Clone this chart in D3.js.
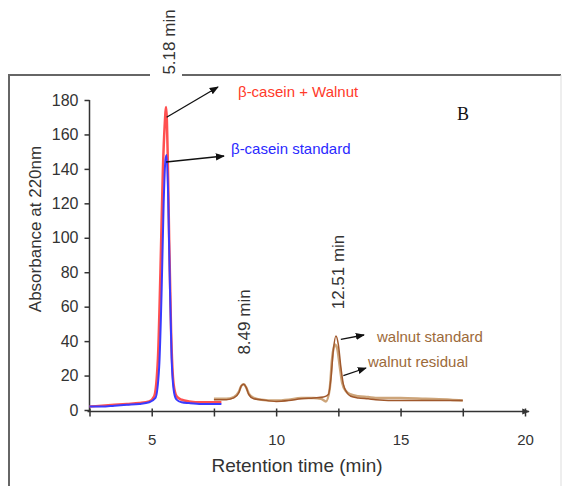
<!DOCTYPE html>
<html>
<head>
<meta charset="utf-8">
<script src="https://cdn.jsdelivr.net/npm/d3@7"></script>
<style>
body{margin:0;background:#fff;}
svg{display:block;font-family:"Liberation Sans",Arial,sans-serif;}
</style>
</head>
<body>
<svg id="chart" width="563" height="486"></svg>
<script>
// retention time (min) and absorbance for each trace
var caseinWalnutX = [2.5,3,3.5,4,4.5,4.9,5.1,5.25,5.35,5.45,5.52,5.58,5.64,5.7,5.78,5.88,6.0,6.2,6.5,7,7.5,7.8];
var caseinWalnutY = [2,2.5,3,3.5,4,5,8,30,80,140,165,176,150,100,45,15,8,6,5,4.5,4.5,4.5];
var caseinStdX = [2.5,3,3.5,4,4.5,4.9,5.15,5.3,5.4,5.48,5.55,5.6,5.66,5.72,5.8,5.9,6.0,6.2,6.5,7,7.5,7.8];
var caseinStdY = [2,2,2.5,3,3.5,4.5,7,25,70,120,145,148,125,80,30,10,6,4.5,4,3.5,3.5,3.5];
var walnutStdX = [7.5,8,8.3,8.5,8.6,8.7,8.8,8.9,9.1,9.4,10,10.5,11,11.5,11.9,12.1,12.2,12.3,12.4,12.5,12.6,12.7,12.85,13,13.3,13.7,14,15,16,17,17.5];
var walnutStdY = [6,6,7,10,14,15,13,9,6.5,6,5,5.5,6.5,7,7.5,9,18,35,43,38,25,15,10,8,7,6.5,6,5.5,5.5,5.5,5.5];
var walnutResX = [7.5,8,8.3,8.5,8.6,8.7,8.8,8.9,9.1,9.4,10,10.5,11,11.5,11.8,12.0,12.15,12.25,12.35,12.45,12.55,12.65,12.8,13,13.3,13.7,14,15,16,17,17.5];
var walnutResY = [6.5,6.5,7.5,10.5,14,15,13,9.5,7,6,5.5,6,7,7,6.5,5,12,30,38,36,26,16,11,9,8,7.5,7,7,6.5,6,5.5];

var xTicks = [2.5,5,7.5,10,12.5,15,17.5,20];
var xLabels = [5,10,15,20];
var yTicks = [0,20,40,60,80,100,120,140,160,180];
var peakTimes = ["5.18 min","8.49 min","12.51 min"];

var svg = d3.select("#chart");
var x = d3.scaleLinear().domain([2.5,20]).range([89.5,525]);
var y = d3.scaleLinear().domain([0,180]).range([410,100]);

// frame around the panel, broken at the top for the first peak label
svg.append("path").attr("d","M9,486 V75 H150 M182,75 H561").attr("stroke","#666").attr("stroke-width",2).attr("fill","none");
svg.append("line").attr("x1",561).attr("y1",75).attr("x2",561).attr("y2",486).attr("stroke","#ddd").attr("stroke-width",1);

var defs = svg.append("defs");
defs.append("marker").attr("id","arr").attr("viewBox","0 0 10 10").attr("refX",9).attr("refY",5)
    .attr("markerWidth",7).attr("markerHeight",7).attr("orient","auto")
    .append("path").attr("d","M0,1 L10,5 L0,9 Z").attr("fill","#111");
defs.append("marker").attr("id","axarr").attr("viewBox","0 0 10 10").attr("refX",9).attr("refY",5)
    .attr("markerWidth",5).attr("markerHeight",5).attr("orient","auto")
    .append("path").attr("d","M0,1 L10,5 L0,9 Z").attr("fill","#333");

// y axis
var yAxis = svg.append("g").attr("transform","translate("+x(2.5)+",0)")
    .call(d3.axisLeft(y).tickValues(yTicks).tickSize(5).tickPadding(6));
yAxis.select(".domain").attr("d","M0,"+y(180)+"V"+(y(0)+2)).attr("stroke","#333").attr("stroke-width",1.5);
yAxis.selectAll(".tick line").attr("stroke","#333").attr("stroke-width",1.5);
yAxis.selectAll("text").attr("font-size","16px").attr("fill","#333").attr("font-family","Liberation Sans, Arial, sans-serif");

// x axis, ticks cross the line
var xAxis = svg.append("g").attr("transform","translate(0,"+(y(0)+1.5)+")")
    .call(d3.axisBottom(x).tickValues(xTicks).tickSize(5).tickPadding(18)
        .tickFormat(function(d){ return xLabels.indexOf(d) >= 0 ? d : ""; }));
xAxis.select(".domain").remove();
xAxis.append("line").attr("x1",x(2.5)-2).attr("x2",x(20)+4).attr("stroke","#333").attr("stroke-width",1.5).attr("marker-end","url(#axarr)");
xAxis.selectAll(".tick line").attr("y1",-3).attr("y2",5).attr("stroke","#333").attr("stroke-width",1.5);
xAxis.selectAll("text").attr("font-size","15px").attr("fill","#333").attr("font-family","Liberation Sans, Arial, sans-serif");

// axis titles
svg.append("text").text("Retention time (min)").attr("x",297).attr("y",472).attr("text-anchor","middle")
    .attr("font-size","19px").attr("fill","#333");
svg.append("text").text("Absorbance at 220nm").attr("transform","translate(41,229) rotate(-90)")
    .attr("text-anchor","middle").attr("font-size","17px").attr("fill","#333");
svg.append("text").text("B").attr("x",463).attr("y",120).attr("text-anchor","middle")
    .attr("font-family","Liberation Serif, Times New Roman, serif").attr("font-size","18px").attr("fill","#111");

// traces
var line = d3.line().x(function(d){ return x(d[0]); }).y(function(d){ return y(d[1]); }).curve(d3.curveMonotoneX);
function drawTrace(xs, ys, color, w){
    svg.append("path").datum(d3.zip(xs, ys)).attr("d", line)
        .attr("fill","none").attr("stroke",color).attr("stroke-width",w);
}
drawTrace(walnutResX, walnutResY, "#cda57a", 2.5);
drawTrace(walnutStdX, walnutStdY, "#a0582c", 1.5);
drawTrace(caseinWalnutX, caseinWalnutY, "#ff5050", 2.5);
drawTrace(caseinStdX, caseinStdY, "#3a3aff", 2);

// peak time labels, rotated
var peakPos = [[x(5.68),42],[x(8.72),322],[x(12.5),272]];
for (var i=0;i<peakTimes.length;i++){
    svg.append("text").text(peakTimes[i]).attr("transform","translate("+(peakPos[i][0]+6)+","+peakPos[i][1]+") rotate(-90)")
        .attr("text-anchor","middle").attr("font-size","17px").attr("fill","#333");
}

// annotation arrows and series labels
var notes = [
    {text:"β-casein + Walnut", color:"#ff3a2a", from:[x(5.6),y(170)], to:[218,87], tx:238, ty:97},
    {text:"β-casein standard", color:"#2a2aff", from:[x(5.58),y(144)], to:[224,156], tx:231, ty:154},
    {text:"walnut standard", color:"#9c6a3a", from:[x(12.6),y(41)], to:[364,335], tx:377, ty:342},
    {text:"walnut residual", color:"#9c6a3a", from:[x(12.7),y(20)], to:[366,368], tx:368, ty:367}
];
notes.forEach(function(n){
    svg.append("line").attr("x1",n.from[0]).attr("y1",n.from[1]).attr("x2",n.to[0]).attr("y2",n.to[1])
        .attr("stroke","#111").attr("stroke-width",1.3).attr("marker-end","url(#arr)");
    svg.append("text").text(n.text).attr("x",n.tx).attr("y",n.ty).attr("font-size","15px").attr("fill",n.color);
});
</script>
</body>
</html>
